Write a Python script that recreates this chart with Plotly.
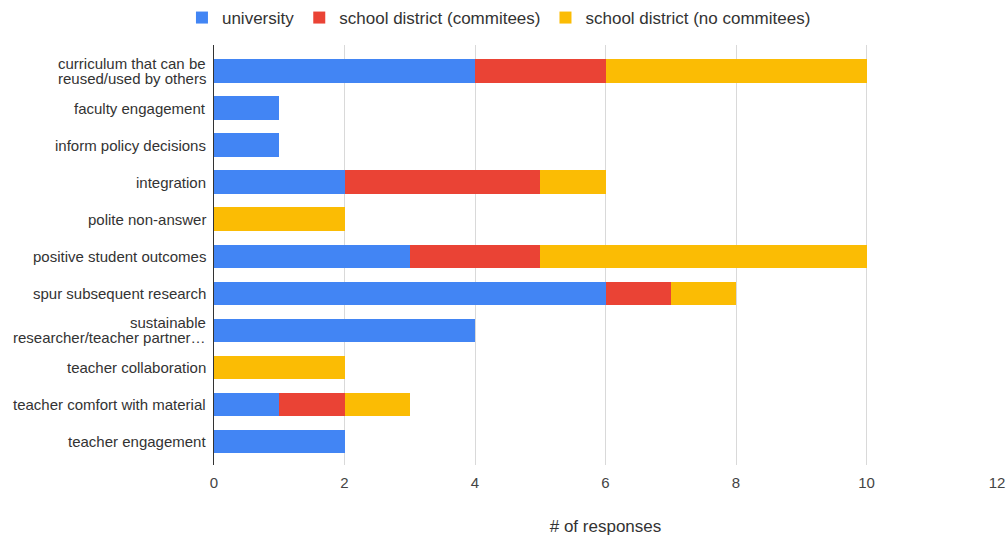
import plotly.graph_objects as go

categories = [
    "curriculum that can be<br>reused/used by others",
    "faculty engagement",
    "inform policy decisions",
    "integration",
    "polite non-answer",
    "positive student outcomes",
    "spur subsequent research",
    "sustainable<br>researcher/teacher partner…",
    "teacher collaboration",
    "teacher comfort with material",
    "teacher engagement",
]
university = [4, 1, 1, 2, 0, 3, 6, 4, 0, 1, 2]
district_committees = [2, 0, 0, 3, 0, 2, 1, 0, 0, 1, 0]
district_no_committees = [4, 0, 0, 1, 2, 5, 1, 0, 2, 1, 0]

series = [
    ("university", university, "#4285F4"),
    ("school district (commitees)", district_committees, "#EA4335"),
    ("school district (no commitees)", district_no_committees, "#FBBC04"),
]

fig = go.Figure()
for name, vals, color in series:
    fig.add_trace(go.Bar(
        y=categories, x=vals, name=name, orientation="h",
        marker=dict(color=color, line=dict(width=0)),
    ))

# Category labels drawn as annotations so wrapped labels get tight line spacing
line_gap = 15
for cat in categories:
    lines = cat.split("<br>")
    n = len(lines)
    for i, line in enumerate(lines):
        offset = ((n - 1) / 2 - i) * line_gap
        fig.add_annotation(
            x=0, xref="paper", y=cat, yref="y", text=line, showarrow=False,
            xanchor="right", yanchor="middle", xshift=-6, yshift=offset,
            font=dict(size=15, color="#333"),
        )

font_family = "Arial, 'Liberation Sans', sans-serif"
fig.update_layout(
    barmode="stack",
    bargap=0.365,
    width=1008, height=537,
    margin=dict(l=214, r=11, t=45, b=72, autoexpand=False),
    paper_bgcolor="white", plot_bgcolor="white",
    font=dict(family=font_family, size=15, color="#444"),
    legend=dict(
        orientation="h", xref="container", yref="container",
        x=0.495, xanchor="center", y=1.0, yanchor="top",
        font=dict(size=17, color="#333"), traceorder="normal",
    ),
    xaxis=dict(
        range=[0, 12], dtick=2, showgrid=True, gridcolor="#d9d9d9",
        gridwidth=1, zeroline=False, showline=False, ticks="",
        automargin=False, ticklabelstandoff=7,
        title=dict(text="# of responses", font=dict(size=17, color="#333"), standoff=30),
        tickfont=dict(size=15, color="#444"),
    ),
    yaxis=dict(
        type="category", range=[10.63, -0.7], showgrid=False,
        showline=True, linecolor="#333", linewidth=1, ticks="",
        automargin=False, showticklabels=False,
    ),
)

fig.write_html("out.html")
